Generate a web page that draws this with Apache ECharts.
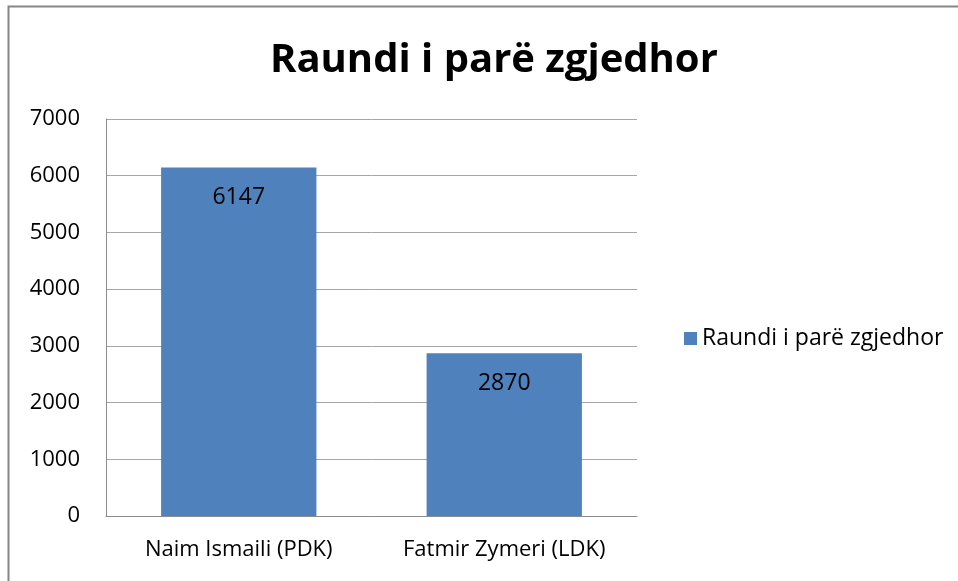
<!DOCTYPE html>
<html>
<head>
<meta charset="utf-8">
<script src="https://cdn.jsdelivr.net/npm/echarts@6/dist/echarts.min.js"></script>
<style>html,body{margin:0;padding:0;background:#fff;}#c{width:958px;height:581px;}</style>
</head>
<body>
<div id="c"></div>
<script>
const title = 'Raundi i parë zgjedhor';
const seriesName = 'Raundi i parë zgjedhor';
const categories = ['Naim Ismaili (PDK)', 'Fatmir Zymeri (LDK)'];
const values = [6147, 2870];
const yTicks = [0, 1000, 2000, 3000, 4000, 5000, 6000, 7000];

const font = 'Open Sans';
const chart = echarts.init(document.getElementById('c'), null, {renderer: 'canvas'});
chart.setOption({
  animation: false,
  backgroundColor: '#fff',
  graphic: [{
    type: 'rect', shape: {x: 8.5, y: 6.5, width: 1200, height: 1200},
    style: {fill: 'none', stroke: '#868686', lineWidth: 2}, z: 100
  }],
  title: {
    text: title, left: 265, top: 36,
    textStyle: {fontFamily: font, fontWeight: 'bold', fontSize: 40, color: '#000'}
  },
  legend: {
    data: [seriesName], left: 679, top: 322, orient: 'vertical',
    itemWidth: 13, itemHeight: 13, itemGap: 8, icon: 'rect',
    textStyle: {fontFamily: font, fontSize: 23, color: '#000'}
  },
  grid: {left: 106, top: 119, right: 321, bottom: 65, containLabel: false},
  xAxis: {
    type: 'category', data: categories,
    axisLine: {lineStyle: {color: '#8c8c8c', width: 1}},
    axisTick: {show: false},
    axisLabel: {
      interval: 0, hideOverlap: false,
      fontFamily: font, fontSize: 22, color: '#000', margin: 23
    }
  },
  yAxis: {
    type: 'value', min: yTicks[0], max: yTicks[yTicks.length - 1], interval: 1000,
    axisLine: {show: true, lineStyle: {color: '#8c8c8c', width: 1}},
    axisTick: {show: false},
    splitLine: {lineStyle: {color: '#a6a6a6', width: 1}},
    axisLabel: {
      fontFamily: font, fontSize: 22, color: '#000', margin: 26,
      formatter: function (v) { return String(v); }
    }
  },
  series: [{
    name: seriesName, type: 'bar', data: values,
    barWidth: '58.5%',
    itemStyle: {color: '#4F81BD'},
    label: {
      show: true, position: 'insideTop', distance: 19,
      fontFamily: font, fontSize: 23, color: '#000'
    }
  }]
});
</script>
</body>
</html>
